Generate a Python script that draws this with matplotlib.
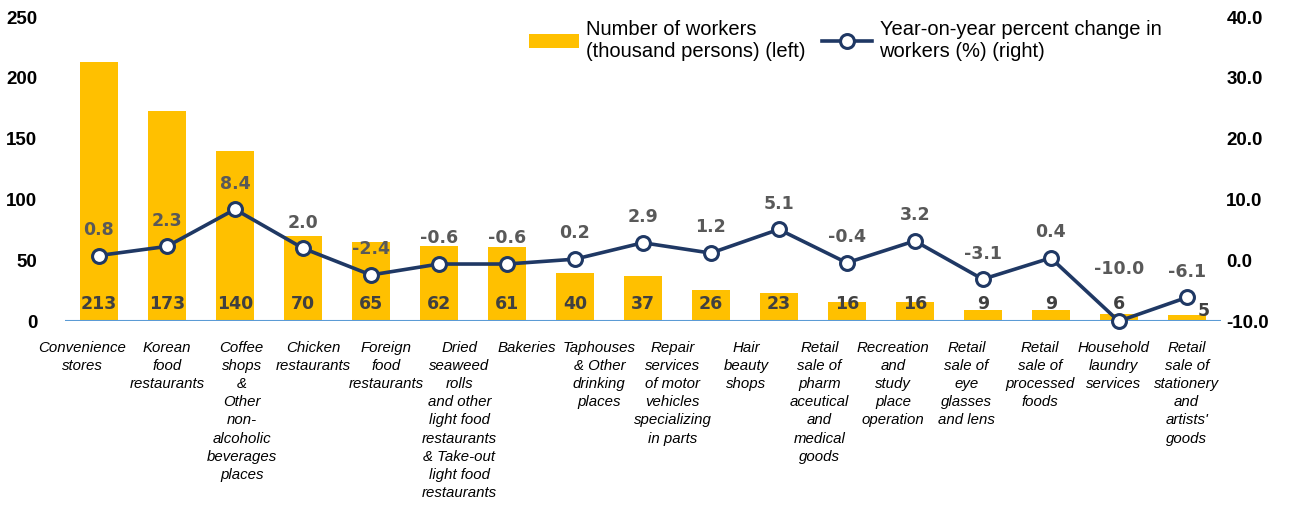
import matplotlib
matplotlib.use("Agg")
import matplotlib.pyplot as plt
import numpy as np

categories = [
    "Convenience\nstores",
    "Korean\nfood\nrestaurants",
    "Coffee\nshops\n&\nOther\nnon-\nalcoholic\nbeverages\nplaces",
    "Chicken\nrestaurants",
    "Foreign\nfood\nrestaurants",
    "Dried\nseaweed\nrolls\nand other\nlight food\nrestaurants\n& Take-out\nlight food\nrestaurants",
    "Bakeries",
    "Taphouses\n& Other\ndrinking\nplaces",
    "Repair\nservices\nof motor\nvehicles\nspecializing\nin parts",
    "Hair\nbeauty\nshops",
    "Retail\nsale of\npharm\naceutical\nand\nmedical\ngoods",
    "Recreation\nand\nstudy\nplace\noperation",
    "Retail\nsale of\neye\nglasses\nand lens",
    "Retail\nsale of\nprocessed\nfoods",
    "Household\nlaundry\nservices",
    "Retail\nsale of\nstationery\nand\nartists'\ngoods",
]
workers = [213, 173, 140, 70, 65, 62, 61, 40, 37, 26, 23, 16, 16, 9, 9, 6, 5]
change = [0.8, 2.3, 8.4, 2.0, -2.4, -0.6, -0.6, 0.2, 2.9, 1.2, 5.1, -0.4, 3.2, -3.1, 0.4, -10.0, -6.1]

BAR = "#FFC000"
NAVY = "#1F3864"


def main():
    fig = plt.figure(figsize=(13, 5.05), dpi=100)
    ax = fig.add_axes([0.05, 0.364, 0.889, 0.602])
    x = np.arange(len(workers))

    ax.bar(x, workers, width=0.56, color=BAR, label="Number of workers\n(thousand persons) (left)", zorder=2)
    ax.set_ylim(0, 250)
    ax.set_xlim(-0.5, len(workers) - 0.5)
    ax.set_yticks(range(0, 251, 50))

    last = len(workers) - 1
    for i, v in enumerate(workers):
        off = (12, 1) if i == last else (0, 6)
        ax.annotate(str(v), (i, 0), xytext=off, textcoords="offset points",
                    ha="center", va="bottom", fontsize=12.5, fontweight="bold",
                    color="#404040", zorder=3)

    ax2 = ax.twinx()
    ax2.plot(x, change, color=NAVY, lw=2.6, marker="o", ms=10, mfc="white",
             mec=NAVY, mew=2.2, label="Year-on-year percent change in\nworkers (%) (right)",
             zorder=4, clip_on=False)
    ax2.set_ylim(-10, 40)
    ax2.set_yticks(range(-10, 41, 10))
    ax2.yaxis.set_major_formatter(lambda v, p: f"{v:.1f}")

    lowest = int(np.argmin(change))
    for i, v in enumerate(change):
        dy = 31 if i == lowest else 12
        ax2.annotate(f"{v:.1f}", (i, v), xytext=(0, dy), textcoords="offset points",
                     ha="center", va="bottom", fontsize=12.5, fontweight="bold",
                     color="#595959")

    # the 16 category labels sit roughly evenly across the 17 bars in the source
    label_pos = np.linspace(-0.2, len(workers) - 1, len(categories))
    label_pos[:7] = [-0.25, 1.0, 2.1, 3.15, 4.22, 5.3, 6.3]
    ax.set_xticks(label_pos)
    ax.set_xticklabels(categories, fontsize=10.8, style="italic", linespacing=1.38,
                       family="Liberation Sans", va="top")
    ax.tick_params(axis="x", length=0, pad=14)
    ax.tick_params(axis="y", length=0, labelsize=13.5, pad=20)
    ax2.tick_params(axis="y", length=0, labelsize=13.5, pad=4)
    for lab in ax.get_yticklabels() + ax2.get_yticklabels():
        lab.set_fontweight("bold")
        lab.set_family("Liberation Sans")

    for a in (ax, ax2):
        for s in a.spines.values():
            s.set_visible(False)
    ax.axhline(0, color="#5B9BD5", lw=1.5, zorder=2.5)

    h1, l1 = ax.get_legend_handles_labels()
    h2, l2 = ax2.get_legend_handles_labels()
    fig.legend(h1 + h2, l1 + l2, ncol=2, loc="upper left", bbox_to_anchor=(0.407, 0.96),
               frameon=False, handlelength=2.5, handletextpad=0.35,
               columnspacing=0.8, borderpad=0, borderaxespad=0, labelspacing=0.3,
               prop={"family": "Liberation Sans", "size": 14.5})

    fig.savefig("out.png", dpi=100)


if __name__ == "__main__":
    main()
